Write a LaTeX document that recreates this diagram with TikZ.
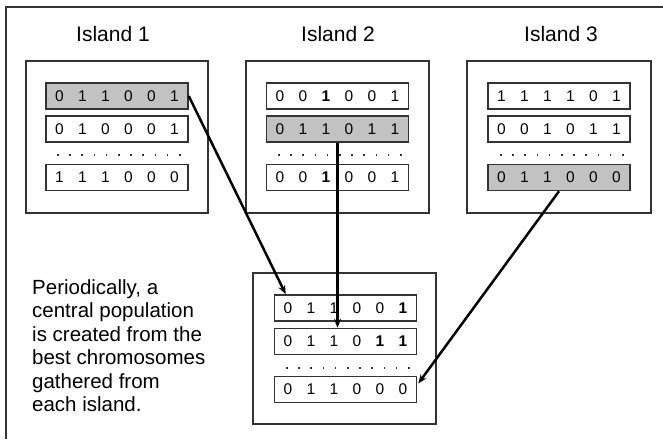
\documentclass[tikz,border=0pt]{standalone}
\usepackage{fontspec}
\setmainfont{Liberation Sans}
\usetikzlibrary{calc,arrows.meta}

\definecolor{bestgray}{gray}{0.76}
\definecolor{linegray}{gray}{0.2}

% six genes of one chromosome, evenly spaced
\newcommand{\genes}[6]{%
  \makebox[23pt]{#1}\makebox[23pt]{#2}\makebox[23pt]{#3}%
  \makebox[23pt]{#4}\makebox[23pt]{#5}\makebox[23pt]{#6}}

\tikzset{
  popbox/.style={draw=linegray, line width=1.5pt, minimum width=183pt,
    minimum height=152pt, inner sep=0pt},
  chrom/.style={draw=linegray, line width=1.5pt, minimum width=142pt,
    minimum height=26pt, inner sep=0pt, font=\fontsize{15.5}{15.5}\selectfont},
  best/.style={chrom, fill=bestgray},
  title/.style={font=\fontsize{21}{21}\selectfont, inner sep=0pt},
  gap/.style={line width=1.6pt, dash pattern=on 1.6pt off 10.6pt, draw=linegray},
  conn/.style={line width=2.5pt, -{Stealth[length=9pt,width=7pt]}},
}

\begin{document}
\begin{tikzpicture}[x=1pt, y=-1pt]
  \useasboundingbox (0,0) rectangle (663,439);

  % outer frame (top and left edges)
  \draw[line width=2pt, draw=linegray] (6,439) -- (6,7) -- (663,7);

  % island titles
  \node[title] (t1) at (113,34) {Island 1};
  \node[title] (t2) at (338,34) {Island 2};
  \node[title] (t3) at (561,34) {Island 3};

  % island populations
  \node[popbox, minimum width=182pt] (p1) at (117,137) {};
  \node[popbox] (p2) at (337.5,137) {};
  \node[popbox, minimum width=184pt] (p3) at (559,137) {};

  % island 1
  \node[best]  (a1) at (117,96)    {\genes011001};
  \node[chrom] (a2) at (117,129)   {\genes010001};
  \node[chrom] (a3) at (117,177.5) {\genes111000};
  \draw[gap] (57,155) -- (183,155);

  % island 2
  \node[chrom] (b1) at (337.5,96)    {\genes00{\textbf{1}}001};
  \node[best]  (b2) at (337.5,129)   {\genes011011};
  \node[chrom] (b3) at (337.5,177.5) {\genes00{\textbf{1}}001};
  \draw[gap] (278,155) -- (404,155);

  % island 3
  \node[chrom] (d1) at (559,96)    {\genes111101};
  \node[chrom] (d2) at (559,129)   {\genes001011};
  \node[best]  (d3) at (559,177.5) {\genes011000};
  \draw[gap] (500,155) -- (626,155);

  % central population
  \node[popbox, minimum height=151pt] (pc) at (344.5,348.5) {};
  \node[chrom] (c1) at (345.5,308)   {\genes01100{\textbf{1}}};
  \node[chrom] (c2) at (345.5,341.5) {\genes0110{\textbf{1}}{\textbf{1}}};
  \node[chrom] (c3) at (345.5,389.5) {\genes011000};
  \draw[gap] (286,368) -- (412,368);

  % migration of the best chromosomes
  \draw[conn] (a1.east) -- ($(c1.north west)+(12,0)$);
  \draw[conn] (b2.south) -- (b2.south |- c2.north);
  \draw[conn] (d3.south) -- ($(c3.east)+(1,-6)$);

  % explanation
  \node[anchor=north west, align=left, inner sep=0pt,
        font=\fontsize{20.5}{23.5}\selectfont] (note) at (32,279)
    {Periodically, a\\central population\\is created from the\\best chromosomes\\gathered from\\each island.};
\end{tikzpicture}
\end{document}
